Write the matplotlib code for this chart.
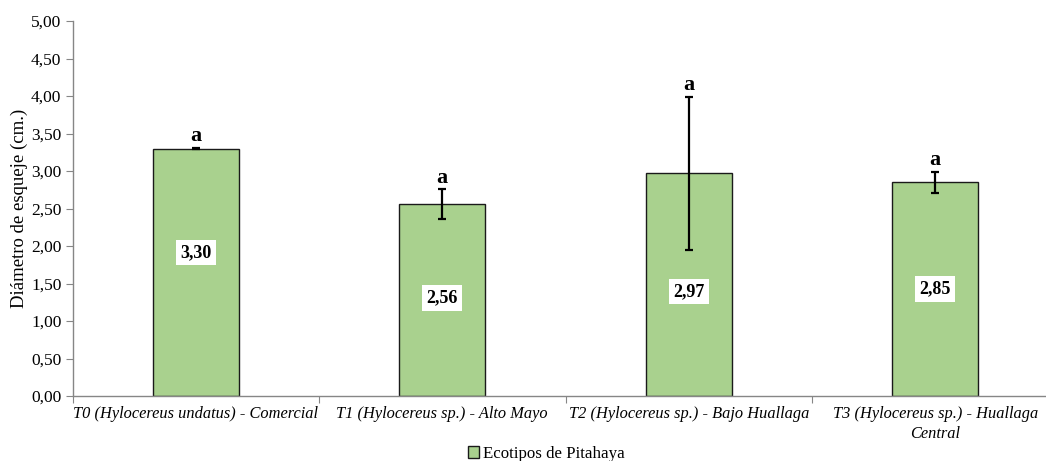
import numpy as np
import matplotlib.pyplot as plt
from matplotlib.ticker import FuncFormatter

# Ecotipos de pitahaya: diametro medio de esqueje y desviacion
categorias = ['T0 (Hylocereus undatus) - Comercial',
              'T1 (Hylocereus sp.) - Alto Mayo',
              'T2 (Hylocereus sp.) - Bajo Huallaga',
              'T3 (Hylocereus sp.) - Huallaga\nCentral']
diametro = [3.30, 2.56, 2.97, 2.85]
desv = [0.01, 0.20, 1.02, 0.14]
letras = ['a', 'a', 'a', 'a']

# posicion vertical de las etiquetas de valor (fraccion de la barra)
pos_etiqueta = [0.58, 0.51, 0.47, 0.50]

plt.rcParams['font.family'] = ['Liberation Serif', 'DejaVu Serif']
FontSize = 12.5
verde = '#A9D18E'
gris = '#868686'

fig = plt.figure(figsize=(10.46, 4.61), dpi=100)
ax = fig.add_axes([72.5/1046, 65/461, 986/1046, 375/461])

x = np.arange(len(categorias))
ax.bar(x, diametro, width=0.35, color=verde, edgecolor='#1a1a1a', linewidth=1.0,
       yerr=desv, error_kw=dict(ecolor='black', elinewidth=1.6, capsize=3, capthick=1.6),
       label='Ecotipos de Pitahaya', zorder=2)

for i, v in enumerate(diametro):
    ax.text(x[i], v * pos_etiqueta[i], f'{v:.2f}'.replace('.', ','), ha='center', va='center',
            fontsize=13, fontweight='bold',
            bbox=dict(facecolor='white', edgecolor='none', pad=3), zorder=3)
    ax.text(x[i], v + desv[i] + 0.02, letras[i], ha='center', va='bottom',
            fontsize=16, fontweight='bold', zorder=3)

ax.set_xlim(-0.5, len(categorias) - 0.5)
ax.set_ylim(0, 5)
ax.set_yticks(np.arange(0, 5.01, 0.5))
ax.yaxis.set_major_formatter(FuncFormatter(lambda v, p: f'{v:.2f}'.replace('.', ',')))

# marcas entre categorias, nombres centrados bajo cada barra
ax.set_xticks(np.arange(-0.5, len(categorias), 1.0))
ax.set_xticklabels([])
ax.set_xticks(x, minor=True)
ax.set_xticklabels(categorias, minor=True, fontstyle='italic', fontsize=11.8, linespacing=1.35)
ax.tick_params(axis='x', which='minor', length=0, pad=7)
ax.tick_params(axis='x', which='major', length=5, color=gris, direction='out')
ax.tick_params(axis='y', length=5, color=gris, direction='out', labelsize=FontSize, pad=3)

for s in ['top', 'right']:
    ax.spines[s].set_visible(False)
for s in ['left', 'bottom']:
    ax.spines[s].set_color(gris)
    ax.spines[s].set_linewidth(1.0)

ax.set_ylabel('Diámetro de esqueje (cm.)', fontsize=13.5, labelpad=2)

fig.legend(loc='lower center', bbox_to_anchor=(546/1046, -0.036), frameon=False,
           fontsize=12.2, handlelength=0.7, handleheight=0.7, handletextpad=0.2)

plt.savefig('out.png', dpi=100)
